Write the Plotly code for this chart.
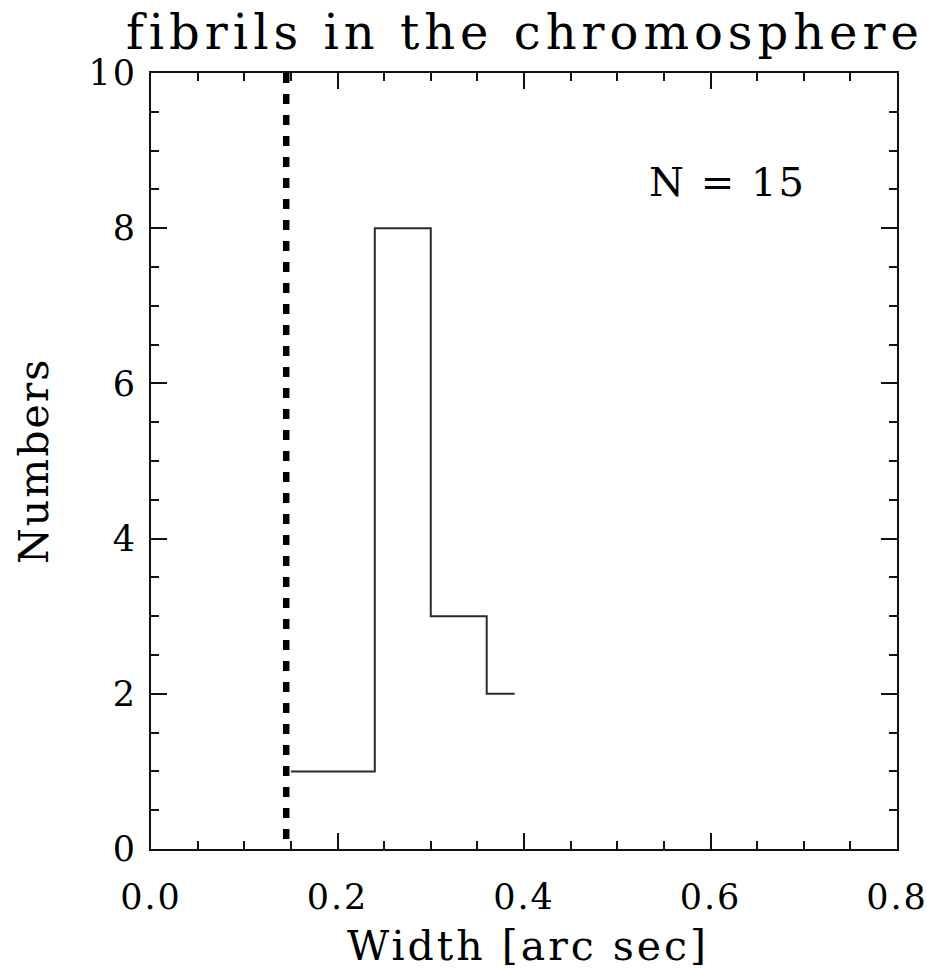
import plotly.graph_objects as go

# ---- data ----
bin_left_edges = [0.15, 0.24, 0.30, 0.36]
bin_counts = [1, 8, 3, 2]
last_edge = 0.39
resolution_limit = 0.145
x_tick_values = [0.0, 0.2, 0.4, 0.6, 0.8]
x_tick_labels = ["0.0", "0.2", "0.4", "0.6", "0.8"]
y_tick_values = [0, 2, 4, 6, 8, 10]
y_tick_labels = ["0", "2", "4", "6", "8", "10"]
title_text = "fibrils in the chromosphere"
x_title = "Width [arc sec]"
y_title = "Numbers"
n_text = "N = 15"

FONT = "DejaVu Serif"
INK = "#111111"


def spaced(s, px):
    return f'<span style="letter-spacing:{px}px">{s}</span>'


# pixel geometry of the plotting box
L, R, T, B = 151, 897, 73, 849
W, H = 927, 970


def px_to_paper_x(px):
    return (px - L) / (R - L)


def px_to_paper_y(py):
    return (B - py) / (B - T)


fig = go.Figure()

# histogram (IDL psym=10 style step line)
hx = bin_left_edges + [last_edge]
hy = bin_counts + [bin_counts[-1]]
fig.add_trace(go.Scatter(
    x=hx, y=hy, mode="lines", line=dict(shape="hv", color="#2a2a2a", width=2),
    showlegend=False, hoverinfo="skip"))

# resolution limit (thick dashed vertical line)
fig.add_trace(go.Scatter(
    x=[resolution_limit, resolution_limit], y=[10, 0], mode="lines",
    line=dict(color="black", width=6.5, dash="10px,11px"),
    showlegend=False, hoverinfo="skip"))

axis_common = dict(
    showgrid=False, zeroline=False, showline=True, linecolor=INK, linewidth=2,
    mirror="ticks", ticks="inside", tickcolor=INK, tickwidth=1.5, ticklen=16,
    tickfont=dict(family=FONT, size=35, color="black"), automargin=False,
    ticklabeloverflow="allow",
)

fig.update_xaxes(
    range=[0, 0.8], tickmode="array", tickvals=x_tick_values,
    ticktext=[spaced(t, 2) for t in x_tick_labels],
    minor=dict(dtick=0.05, ticks="inside", ticklen=8, tickcolor=INK, tickwidth=1.5),
    ticklabelstandoff=16,
    **axis_common)
fig.update_yaxes(
    range=[0, 10], tickmode="array", tickvals=y_tick_values,
    ticktext=[spaced(t, 2) for t in y_tick_labels],
    minor=dict(dtick=0.5, ticks="inside", ticklen=8, tickcolor=INK, tickwidth=1.5),
    ticklabelstandoff=5,
    **axis_common)

annotations = [
    dict(text=spaced(title_text, 5), x=px_to_paper_x(525), y=px_to_paper_y(32),
         font=dict(family=FONT, size=48, color="black")),
    dict(text=spaced(x_title, 3), x=px_to_paper_x(528), y=px_to_paper_y(946),
         font=dict(family=FONT, size=41, color="black")),
    dict(text=spaced(y_title, 2), x=px_to_paper_x(34), y=0.5, textangle=-90,
         font=dict(family=FONT, size=41, color="black")),
    dict(text=spaced(n_text, 2), x=px_to_paper_x(727), y=px_to_paper_y(182),
         font=dict(family=FONT, size=40, color="black")),
]
for a in annotations:
    a.update(xref="paper", yref="paper", showarrow=False,
             xanchor="center", yanchor="middle")

fig.update_layout(
    width=W, height=H,
    margin=dict(l=L, r=W - R, t=T, b=H - B),
    paper_bgcolor="white", plot_bgcolor="white",
    annotations=annotations,
    showlegend=False,
)

fig.write_html("out.html")
